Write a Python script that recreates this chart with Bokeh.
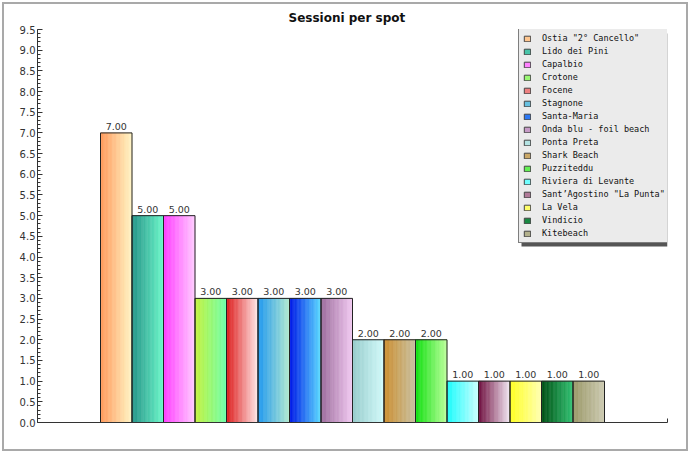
import numpy as np
from bokeh.plotting import figure
from bokeh.models import (Range1d, SingleIntervalTicker, FixedTicker, NumeralTickFormatter,
                          LinearAxis, Legend, LegendItem, BoxAnnotation, ColumnDataSource,
                          CustomJSTickFormatter)
from bokeh.core.properties import value
from bokeh.embed import file_html
from bokeh.resources import INLINE

# ---- data ----
categories = ['Ostia "2° Cancello"', "Lido dei Pini", "Capalbio", "Crotone", "Focene",
              "Stagnone", "Santa-Maria", "Onda blu - foil beach", "Ponta Preta",
              "Shark Beach", "Puzziteddu", "Riviera di Levante",
              "Sant’Agostino \"La Punta\"", "La Vela", "Vindicio", "Kitebeach"]
sessions = [7, 5, 5, 3, 3, 3, 3, 3, 2, 2, 2, 1, 1, 1, 1, 1]
left_colors = ["#ff9a5c", "#259488", "#ff3dff", "#c4f23c", "#dd1c1c", "#1e98f0", "#0018e8",
               "#9c6c9c", "#98cccc", "#cc8e2e", "#10e010", "#18fcfc", "#701040",
               "#ffff20", "#005014", "#9a9868"]
right_colors = ["#fff3c2", "#6af5c8", "#ffc8ff", "#70ffaa", "#ffe4e4", "#b0e8d0", "#58d8ff",
                "#f0c8f0", "#d0fafa", "#c8c0a0", "#b8ff98", "#c8ffff", "#f0e4f0",
                "#ffffb0", "#30c070", "#cccab0"]
y_ticks_step = 0.5

FONT = "DejaVu Sans"

def hex2rgb(h):
    h = h.lstrip("#")
    return np.array([int(h[i:i + 2], 16) for i in (0, 2, 4)], dtype=float)

def rgb2hex(c):
    return "#%02x%02x%02x" % tuple(int(round(v)) for v in c)

FW, FH = 630, 393
ML, MT, MR, MB = 33, 25, 19, 27
p = figure(width=682, height=445, output_backend="svg", toolbar_location=None,
           x_range=Range1d(-2, 18), y_range=Range1d(0, 9.5),
           frame_width=FW, frame_height=FH,
           min_border_left=ML, min_border_top=MT, min_border_right=MR, min_border_bottom=MB,
           x_axis_type=None, y_axis_type=None)
p.styles = {"margin": "4px", "outline": "2px solid #a9a9a9"}
p.background_fill_color = "white"
p.border_fill_color = "white"
p.outline_line_color = None

p.title.text = "Sessioni per spot"
p.title.align = "left"
p.title.text_font = FONT
p.title.text_font_size = "12px"
p.title.text_font_style = "bold"
p.title.text_color = "#111111"
p.title.offset = 251
p.title.standoff = 9

# y axis
yax = LinearAxis(ticker=SingleIntervalTicker(interval=y_ticks_step, num_minor_ticks=5),
                 formatter=NumeralTickFormatter(format="0.0"))
yax.major_tick_in = 5
yax.major_tick_out = 0
yax.minor_tick_in = 3
yax.minor_tick_out = 0
yax.axis_line_color = "#333333"
yax.major_tick_line_color = "#333333"
yax.minor_tick_line_color = "#333333"
yax.major_label_text_font = FONT
yax.major_label_text_font_size = "10px"
yax.major_label_text_color = "#333333"
yax.major_label_standoff = 2
p.add_layout(yax, "left")

xax = LinearAxis(ticker=FixedTicker(ticks=[18]),
                 formatter=CustomJSTickFormatter(code="return ''"))
xax.major_tick_in = 4
xax.major_tick_out = 0
xax.minor_tick_line_color = None
xax.axis_line_color = "#333333"
xax.major_tick_line_color = "#333333"
p.add_layout(xax, "below")

p.ygrid.ticker = SingleIntervalTicker(interval=y_ticks_step)
p.ygrid.grid_line_color = "#e2e2e2"

# gradient bars built from thin strips
N = 24
xs = np.arange(len(sessions))
legend_items = []
for j, (cat, v, lc, rc) in enumerate(zip(categories, sessions, left_colors, right_colors)):
    a, b = hex2rgb(lc), hex2rgb(rc)
    t = np.arange(N) / (N - 1)
    cols = [rgb2hex(a + (b - a) * ti) for ti in t]
    lefts = j + np.arange(N) / N
    rights = j + (np.arange(N) + 1) / N
    src = ColumnDataSource(dict(left=lefts, right=rights, top=[v] * N, bottom=[0] * N, c=cols))
    p.quad(left="left", right="right", top="top", bottom="bottom", fill_color="c",
           line_color="c", line_width=0.6, source=src)
    mid = rgb2hex((a + b) / 2)
    proxy = p.quad(left=[xs[j]], right=[xs[j] + 1], top=[v], bottom=[0], fill_color=mid,
                   line_color="#444444", line_width=1, visible=False)
    legend_items.append(LegendItem(label=cat, renderers=[proxy]))

p.quad(left=xs, right=xs + 1, top=sessions, bottom=0, fill_color=None,
       line_color="#222222", line_width=1)

p.text(x=xs + 0.5, y=sessions, text=["%.2f" % v for v in sessions],
       text_align="center", text_baseline="bottom", y_offset=-3,
       text_font=value(FONT), text_font_size="9.5px", text_color="#333333")

# legend shadow + legend
PAD, LBH, SP, n = 4, 10, 3, len(categories)
LH = 2 * PAD + n * LBH + (n - 1) * SP
LX, LW = 481, 146
LY = FH - LH - 1
shadow = BoxAnnotation(left=LX + 3, right=LX + LW + 3, bottom=LY - 3, top=LY + LH - 3,
                       left_units="screen", right_units="screen",
                       top_units="screen", bottom_units="screen",
                       fill_color="#555555", fill_alpha=1.0, line_color=None)
p.add_layout(shadow)

legend = Legend(items=legend_items, location=(LX, LY), margin=0, padding=PAD,
                spacing=SP, label_height=LBH, glyph_height=7, glyph_width=8,
                label_standoff=11, label_text_font="DejaVu Sans Mono",
                label_text_font_size="8.5px", label_text_color="#111111",
                background_fill_color="#ebebeb", background_fill_alpha=1.0,
                border_line_color="#111111", border_line_width=1)
p.add_layout(legend, "center")

open("out.html", "w").write(file_html(p, INLINE))
